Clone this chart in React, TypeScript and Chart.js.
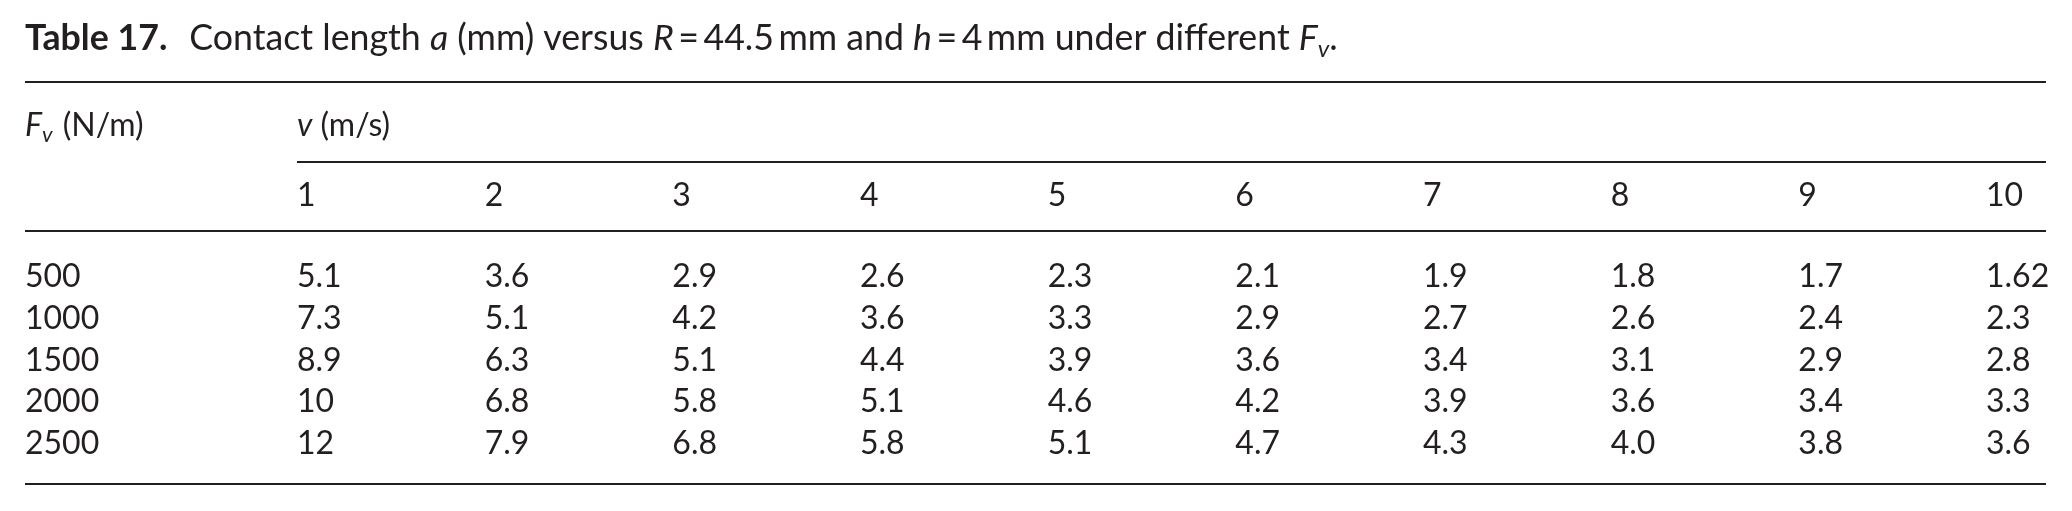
import React, { useEffect, useRef } from 'react';
import Chart from 'chart.js/auto';

// Table 17: contact length a (mm), R = 44.5 mm, h = 4 mm
const forces = ['500', '1000', '1500', '2000', '2500'];
const speeds = [1, 2, 3, 4, 5, 6, 7, 8, 9, 10];
const a500 = ['5.1', '3.6', '2.9', '2.6', '2.3', '2.1', '1.9', '1.8', '1.7', '1.62'];
const a1000 = ['7.3', '5.1', '4.2', '3.6', '3.3', '2.9', '2.7', '2.6', '2.4', '2.3'];
const a1500 = ['8.9', '6.3', '5.1', '4.4', '3.9', '3.6', '3.4', '3.1', '2.9', '2.8'];
const a2000 = ['10', '6.8', '5.8', '5.1', '4.6', '4.2', '3.9', '3.6', '3.4', '3.3'];
const a2500 = ['12', '7.9', '6.8', '5.8', '5.1', '4.7', '4.3', '4.0', '3.8', '3.6'];
const contactLength = [a500, a1000, a1500, a2000, a2500];

// layout
const W = 2072;
const H = 511;
const FONT = 'Lato, "Open Sans", sans-serif';
const SIZE = 32;
const INK = '#231f20';
const LEFT = 25;
const RIGHT = 2046;
const COL1 = 297;
const COL10 = 1986;
const ROW_FIRST = 287;
const ROW_LAST = 454;
const TITLE_END = 1341;

type Run = { t: string; s?: 'b' | 'i'; sub?: boolean; gap?: number };

const titleRuns: Run[] = [
  { t: 'Table 17.', s: 'b', gap: 22 },
  { t: 'Contact length ' },
  { t: 'a', s: 'i' },
  { t: ' (mm) versus ' },
  { t: 'R', s: 'i' },
  { t: '\u2009=\u200944.5\u2009mm and ' },
  { t: 'h', s: 'i' },
  { t: '\u2009=\u20094\u2009mm under different ' },
  { t: 'F', s: 'i' },
  { t: 'v', s: 'i', sub: true },
  { t: '.' },
];

const fontFor = (r: Run, size: number) => {
  const px = r.sub ? Math.round(size * 0.68) : size;
  const style = r.s === 'i' ? 'italic ' : '';
  const weight = r.s === 'b' ? 'bold ' : '';
  return `${style}${weight}${px}px ${FONT}`;
};

const runsWidth = (ctx: CanvasRenderingContext2D, runs: Run[], size: number) => {
  let w = 0;
  runs.forEach(r => {
    ctx.font = fontFor(r, size);
    w += ctx.measureText(r.t).width + (r.gap || 0);
  });
  return w;
};

const drawRuns = (ctx: CanvasRenderingContext2D, x: number, y: number, runs: Run[], size = SIZE) => {
  let cx = x;
  runs.forEach(r => {
    ctx.font = fontFor(r, size);
    ctx.fillText(r.t, cx, r.sub ? y + size * 0.2 : y);
    cx += ctx.measureText(r.t).width + (r.gap || 0);
  });
  ctx.font = `${SIZE}px ${FONT}`;
};

const hline = (ctx: CanvasRenderingContext2D, x1: number, x2: number, y: number) => {
  ctx.beginPath();
  ctx.moveTo(x1, y);
  ctx.lineTo(x2, y);
  ctx.stroke();
};

const tablePlugin = {
  id: 'tableText',
  afterDraw(chart: any) {
    const ctx: CanvasRenderingContext2D = chart.ctx;
    const xs = chart.scales.x;
    ctx.save();
    ctx.fillStyle = INK;
    ctx.strokeStyle = INK;
    ctx.lineWidth = 2;
    ctx.textAlign = 'left';
    ctx.textBaseline = 'alphabetic';

    // caption, sized so it ends where the printed one does
    const natural = runsWidth(ctx, titleRuns, SIZE);
    const titleSize = Math.min(SIZE * 1.15, SIZE * (TITLE_END - LEFT) / natural);
    drawRuns(ctx, LEFT, 50, titleRuns, titleSize);

    hline(ctx, LEFT, RIGHT, 82);
    hline(ctx, COL1, RIGHT, 162);
    hline(ctx, LEFT, RIGHT, 231);
    hline(ctx, LEFT, RIGHT, 484);

    drawRuns(ctx, LEFT, 136, [{ t: 'F', s: 'i' }, { t: 'v', s: 'i', sub: true, gap: 2 }, { t: ' (N/m)' }]);
    drawRuns(ctx, xs.getPixelForValue(speeds[0]), 136, [{ t: 'v', s: 'i' }, { t: ' (m/s)' }]);

    ctx.font = `${SIZE}px ${FONT}`;
    speeds.forEach(v => ctx.fillText(String(v), xs.getPixelForValue(v), 206));

    chart.data.datasets.forEach((_ds: any, di: number) => {
      const meta = chart.getDatasetMeta(di);
      meta.data.forEach((pt: any, i: number) => {
        ctx.fillText(contactLength[di][i], pt.x, pt.y);
      });
      ctx.fillText(forces[di], LEFT, meta.data[0].y);
    });
    ctx.restore();
  },
};

const App: React.FC = () => {
  const canvasRef = useRef<HTMLCanvasElement>(null);
  const chartRef = useRef<Chart | null>(null);

  useEffect(() => {
    document.body.style.margin = '0';
    const ctx = canvasRef.current?.getContext('2d');
    if (!ctx) return;
    if (chartRef.current) chartRef.current.destroy();

    chartRef.current = new Chart(ctx, {
      type: 'scatter',
      data: {
        datasets: forces.map((f, ri) => ({
          label: f,
          data: speeds.map(v => ({ x: v, y: ri })),
          pointRadius: 0,
          showLine: false,
        })),
      },
      options: {
        responsive: false,
        animation: false,
        events: [],
        layout: {
          padding: { left: COL1, right: W - COL10, top: ROW_FIRST, bottom: H - ROW_LAST },
        },
        scales: {
          x: { type: 'linear', display: false, min: speeds[0], max: speeds[speeds.length - 1] },
          y: { type: 'linear', display: false, reverse: true, min: 0, max: forces.length - 1 },
        },
        plugins: {
          legend: { display: false },
          tooltip: { enabled: false },
        },
      },
      plugins: [tablePlugin],
    });

    return () => {
      if (chartRef.current) {
        chartRef.current.destroy();
        chartRef.current = null;
      }
    };
  }, []);

  return (
    <div style={{ width: W, height: H, background: '#fff' }}>
      <canvas ref={canvasRef} width={W} height={H} />
    </div>
  );
};

export default App;
